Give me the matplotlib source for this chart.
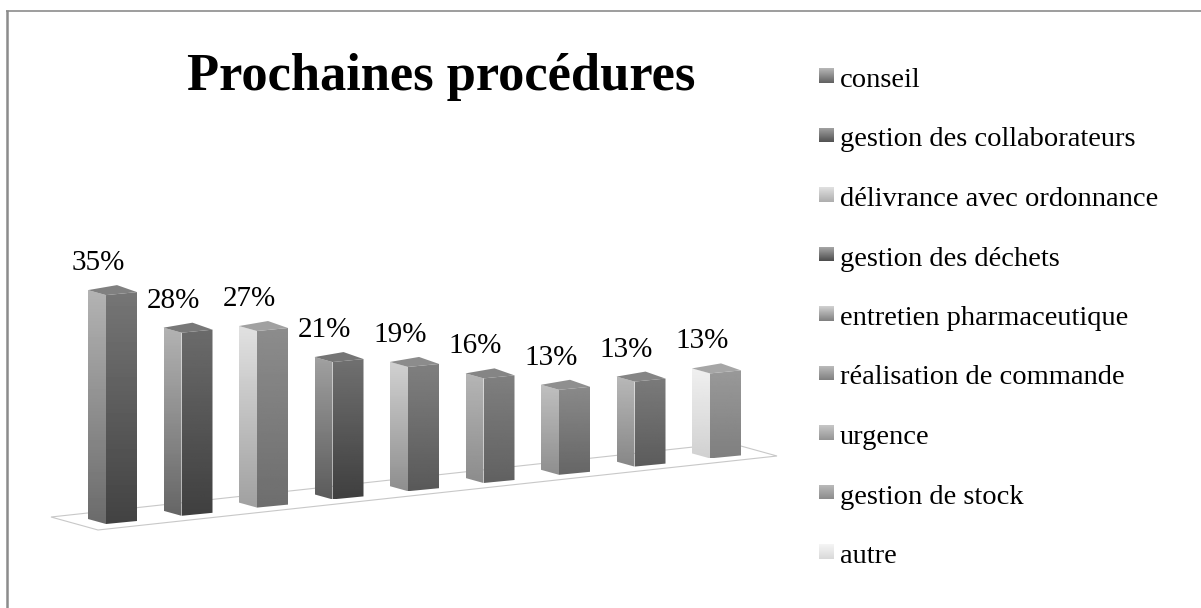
import matplotlib
matplotlib.use('Agg')
import matplotlib.pyplot as plt
import numpy as np
from matplotlib.patches import Polygon

categories = ['conseil', 'gestion des collaborateurs', 'délivrance avec ordonnance',
              'gestion des déchets', 'entretien pharmaceutique', 'réalisation de commande',
              'urgence', 'gestion de stock', 'autre']
values = [35, 28, 27, 21, 19, 16, 13, 13, 13]
title = 'Prochaines procédures'

# grey levels per bar, (top, bottom) of each face
left_face = [(0.70, 0.42), (0.70, 0.40), (0.88, 0.63), (0.63, 0.36), (0.82, 0.56),
             (0.71, 0.55), (0.75, 0.56), (0.72, 0.53), (0.94, 0.82)]
right_face = [(0.46, 0.26), (0.42, 0.25), (0.55, 0.43), (0.44, 0.25), (0.50, 0.35),
              (0.50, 0.38), (0.54, 0.40), (0.48, 0.36), (0.60, 0.50)]
top_face = [0.50, 0.47, 0.63, 0.46, 0.55, 0.52, 0.56, 0.52, 0.65]
legend_face = [(0.72, 0.38), (0.65, 0.32), (0.88, 0.68), (0.68, 0.30), (0.82, 0.50),
               (0.75, 0.50), (0.78, 0.58), (0.74, 0.55), (0.96, 0.85)]

px_per_pct = 6.54
x0, y0 = 106, 524    # front edge foot of first bar
dx, dy = 75.5, -8.2  # step between bars along the floor


def shaded(ax, verts, shade):
    # vertical gradient clipped to a polygon
    verts = np.array(verts, dtype=float)
    grad = np.linspace(shade[0], shade[1], 64).reshape(-1, 1)
    xa, xb = verts[:, 0].min(), verts[:, 0].max()
    ya, yb = verts[:, 1].min(), verts[:, 1].max()
    im = ax.imshow(grad, cmap='gray', vmin=0, vmax=1, extent=(xa, xb, yb, ya),
                   aspect='auto', zorder=3, interpolation='bilinear')
    poly = Polygon(verts, closed=True, transform=ax.transData, fc='none', ec='none')
    ax.add_patch(poly)
    im.set_clip_path(poly)


fig = plt.figure(figsize=(12.01, 6.08), dpi=100)
ax = fig.add_axes([0, 0, 1, 1])
ax.axis('off')
plt.rcParams['font.family'] = ['Liberation Serif']

# only the top and left frame edges are inside the picture
ax.plot([6, 1201], [10.5, 10.5], color='#8c8c8c', lw=1.2, solid_capstyle='butt')
ax.plot([7, 7], [10, 608], color='#8c8c8c', lw=1.8, solid_capstyle='butt')

# floor
floor = [(51, 517), (98, 530), (777, 456), (730, 443)]
ax.add_patch(Polygon(floor, closed=True, fc='white', ec='#c8c8c8', lw=0.8, zorder=2))

for i, v in enumerate(values):
    xm = x0 + i * dx
    ym = y0 + i * dy
    h = v * px_per_pct
    xl, xr = xm - 18, xm + 31
    yl, yr = ym - 5, ym - 3
    shaded(ax, [(xl, yl), (xm, ym), (xm, ym - h), (xl, yl - h)], left_face[i])
    shaded(ax, [(xm, ym), (xr, yr), (xr, yr - h), (xm, ym - h)], right_face[i])
    back = (xm + 11, ym - h - 10)
    g = top_face[i]
    ax.add_patch(Polygon([(xl, yl - h), (xm, ym - h), (xr, yr - h), back], closed=True,
                         fc=(g, g, g), ec='none', zorder=3))
    ax.text(xm - 8, ym - h - 25, '{}%'.format(v), fontsize=21, ha='center', va='baseline',
            color='black', zorder=4)

ax.text(441.5, 90, title, fontsize=37.8, fontweight='bold', ha='center', va='baseline',
        color='black')

for i, name in enumerate(categories):
    base = 87 + i * 59.5
    shaded(ax, [(819, base - 19), (834, base - 19), (834, base - 4), (819, base - 4)],
           legend_face[i])
    ax.text(840, base, name, fontsize=20.5, ha='left', va='baseline', color='black')

ax.set_xlim(0, 1201)
ax.set_ylim(608, 0)
fig.savefig('out.png', dpi=100, facecolor='white')
